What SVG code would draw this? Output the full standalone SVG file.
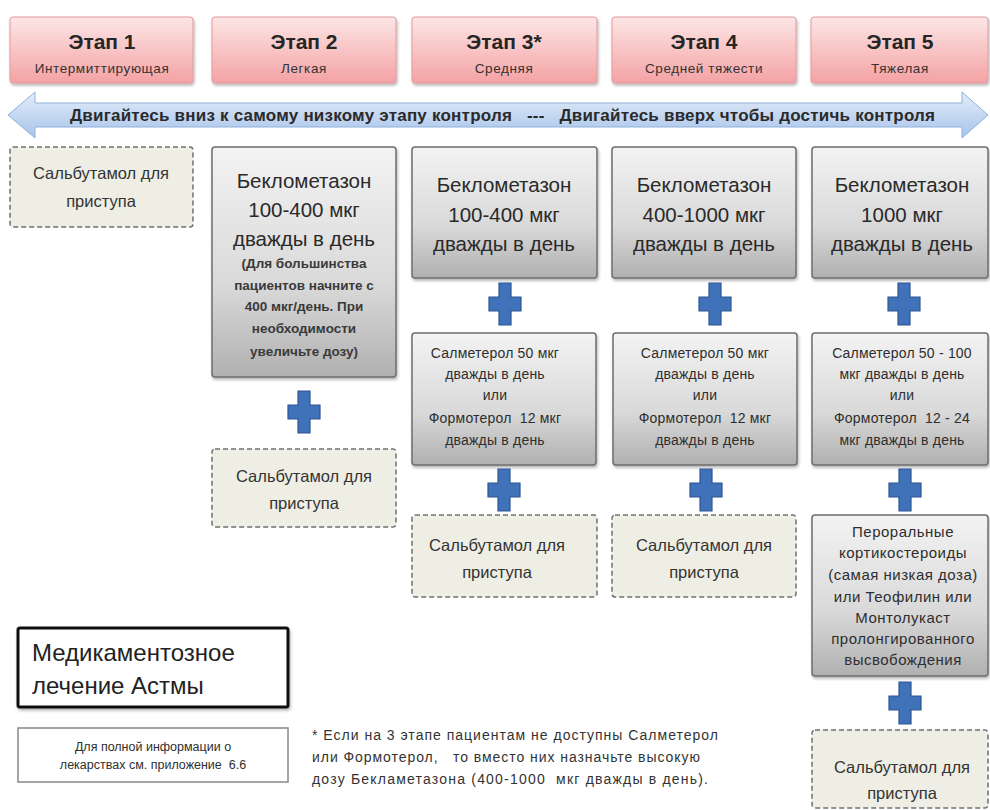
<svg xmlns="http://www.w3.org/2000/svg" width="990" height="810" viewBox="0 0 990 810">
<defs>
  <linearGradient id="gPink" x1="0" y1="0" x2="0" y2="1">
    <stop offset="0" stop-color="#fde6e6"/>
    <stop offset="1" stop-color="#f4a2a4"/>
  </linearGradient>
  <linearGradient id="gGrey" x1="0" y1="0" x2="0" y2="1">
    <stop offset="0" stop-color="#f3f3f3"/>
    <stop offset="0.6" stop-color="#d9d9d9"/>
    <stop offset="1" stop-color="#b0b0b0"/>
  </linearGradient>
  <linearGradient id="gBlue" x1="0" y1="0" x2="0" y2="1">
    <stop offset="0" stop-color="#e3edf9"/>
    <stop offset="1" stop-color="#a8c3ea"/>
  </linearGradient>
  <filter id="sh" x="-10%" y="-10%" width="120%" height="130%">
    <feDropShadow dx="1" dy="2" stdDeviation="1.5" flood-color="#000" flood-opacity="0.3"/>
  </filter>
  <path id="plus" d="M-6,-21 H6 V-7 H16 V7 H6 V21 H-6 V7 H-16 V-7 H-6 Z"/>
</defs>
<style>
  text { font-family: "Liberation Sans", Arial, sans-serif; fill: #2e2e2e; text-anchor: middle; }
  .hdr { fill: url(#gPink); stroke: #e39a9b; stroke-width: 1; filter: url(#sh); }
  .ht { font-size: 21px; font-weight: bold; fill: #262626; }
  .hs { font-size: 13.5px; letter-spacing: 0.6px; fill: #333; }
  .grey { fill: url(#gGrey); stroke: #6e6e6e; stroke-width: 1.5; filter: url(#sh); }
  .sal { fill: #eeeee5; stroke: #707070; stroke-width: 1.5; stroke-dasharray: 5 3; }
  .big { font-size: 20.5px; fill: #2a2a2a; }
  .mid { font-size: 14px; letter-spacing: 0.2px; }
  .oral { font-size: 15px; letter-spacing: 0.5px; }
  .small { font-size: 13.5px; font-weight: bold; fill: #3a3a3a; }
  .salt { font-size: 16.5px; fill: #333; }
  .pl { fill: #3f72b8; stroke: #2c5592; stroke-width: 1.2; }
  .arrowtxt { font-size: 17px; font-weight: bold; fill: #2a2a2a; text-anchor: start; }
  .foot { font-size: 14px; text-anchor: start; fill: #333; }
</style>

<g id="headers">
  <g id="h1"><rect class="hdr" x="10" y="17" width="183" height="66" rx="3"/><text class="ht" x="102" y="49">Этап 1</text><text class="hs" x="102" y="73">Интермиттирующая</text></g>
  <g id="h2"><rect class="hdr" x="212" y="17" width="184" height="66" rx="3"/><text class="ht" x="304" y="49">Этап 2</text><text class="hs" x="304" y="73">Легкая</text></g>
  <g id="h3"><rect class="hdr" x="412" y="17" width="185" height="66" rx="3"/><text class="ht" x="504" y="49">Этап 3*</text><text class="hs" x="504" y="73">Средняя</text></g>
  <g id="h4"><rect class="hdr" x="612" y="17" width="184" height="66" rx="3"/><text class="ht" x="704" y="49">Этап 4</text><text class="hs" x="704" y="73">Средней тяжести</text></g>
  <g id="h5"><rect class="hdr" x="811" y="17" width="177" height="66" rx="3"/><text class="ht" x="900" y="49">Этап 5</text><text class="hs" x="900" y="73">Тяжелая</text></g>
</g>

<g id="arrow">
  <path d="M8,115 L35,92 L35,103 L962,103 L962,92 L988,115 L962,138 L962,127 L35,127 L35,138 Z" fill="url(#gBlue)" stroke="#8fb0dc" stroke-width="1"/>
  <text class="arrowtxt" x="70" y="121" textLength="865" xml:space="preserve">Двигайтесь вниз к самому низкому этапу контроля   ---   Двигайтесь вверх чтобы достичь контроля</text>
</g>

<g id="col1">
  <g id="s1-sal"><rect class="sal" x="10" y="147" width="183" height="80" rx="3"/><text class="salt" x="101" y="179">Сальбутамол для</text><text class="salt" x="101" y="207">приступа</text></g>
</g>

<g id="col2">
  <g id="s2-beclo"><rect class="grey" x="212" y="147" width="184" height="230" rx="3"/>
    <text class="big" x="304" y="188">Беклометазон</text>
    <text class="big" x="304" y="217">100-400 мкг</text>
    <text class="big" x="304" y="246">дважды в день</text>
    <text class="small" x="304" y="268">(Для большинства</text>
    <text class="small" x="304" y="290">пациентов начните с</text>
    <text class="small" x="304" y="311">400 мкг/день. При</text>
    <text class="small" x="304" y="333">необходимости</text>
    <text class="small" x="304" y="356">увеличьте дозу)</text>
  </g>
  <g id="s2-sal"><rect class="sal" x="212" y="449" width="184" height="78" rx="3"/><text class="salt" x="304" y="482">Сальбутамол для</text><text class="salt" x="304" y="509">приступа</text></g>
</g>

<g id="col3">
  <g id="s3-beclo"><rect class="grey" x="412" y="147" width="185" height="131" rx="3"/>
    <text class="big" x="504" y="192">Беклометазон</text>
    <text class="big" x="504" y="222">100-400 мкг</text>
    <text class="big" x="504" y="251">дважды в день</text>
  </g>
  <g id="s3-laba"><rect class="grey" x="412" y="333" width="184" height="132" rx="3"/>
    <text class="mid" x="495" y="358">Салметерол 50 мкг</text>
    <text class="mid" x="495" y="379">дважды в день</text>
    <text class="mid" x="495" y="400">или</text>
    <text class="mid" x="495" y="423" xml:space="preserve">Формотерол  12 мкг</text>
    <text class="mid" x="495" y="445">дважды в день</text>
  </g>
  <g id="s3-sal"><rect class="sal" x="412" y="515" width="185" height="82" rx="3"/><text class="salt" x="497" y="551">Сальбутамол для</text><text class="salt" x="497" y="578">приступа</text></g>
</g>

<g id="col4">
  <g id="s4-beclo"><rect class="grey" x="612" y="147" width="184" height="131" rx="3"/>
    <text class="big" x="704" y="192">Беклометазон</text>
    <text class="big" x="704" y="222">400-1000 мкг</text>
    <text class="big" x="704" y="251">дважды в день</text>
  </g>
  <g id="s4-laba"><rect class="grey" x="613" y="333" width="184" height="132" rx="3"/>
    <text class="mid" x="705" y="358">Салметерол 50 мкг</text>
    <text class="mid" x="705" y="379">дважды в день</text>
    <text class="mid" x="705" y="400">или</text>
    <text class="mid" x="705" y="423" xml:space="preserve">Формотерол  12 мкг</text>
    <text class="mid" x="705" y="445">дважды в день</text>
  </g>
  <g id="s4-sal"><rect class="sal" x="612" y="515" width="184" height="82" rx="3"/><text class="salt" x="704" y="551">Сальбутамол для</text><text class="salt" x="704" y="578">приступа</text></g>
</g>

<g id="col5">
  <g id="s5-beclo"><rect class="grey" x="812" y="147" width="176" height="131" rx="3"/>
    <text class="big" x="902" y="192">Беклометазон</text>
    <text class="big" x="902" y="222">1000 мкг</text>
    <text class="big" x="902" y="251">дважды в день</text>
  </g>
  <g id="s5-laba"><rect class="grey" x="812" y="333" width="176" height="132" rx="3"/>
    <text class="mid" x="902" y="358">Салметерол 50 - 100</text>
    <text class="mid" x="902" y="379">мкг дважды в день</text>
    <text class="mid" x="902" y="400">или</text>
    <text class="mid" x="902" y="423" xml:space="preserve">Формотерол  12 - 24</text>
    <text class="mid" x="902" y="445">мкг дважды в день</text>
  </g>
  <g id="s5-oral"><rect class="grey" x="812" y="515" width="176" height="161" rx="3"/>
    <text class="oral" x="903" y="537">Пероральные</text>
    <text class="oral" x="903" y="558">кортикостероиды</text>
    <text class="oral" x="903" y="580">(самая низкая доза)</text>
    <text class="oral" x="903" y="602">или Теофилин или</text>
    <text class="oral" x="903" y="623">Монтолукаст</text>
    <text class="oral" x="903" y="644">пролонгированного</text>
    <text class="oral" x="903" y="665">высвобождения</text>
  </g>
  <g id="s5-sal"><rect class="sal" x="812" y="730" width="176" height="78" rx="3"/><text class="salt" x="902" y="773">Сальбутамол для</text><text class="salt" x="902" y="799">приступа</text></g>
</g>

<g id="connectors">
  <use href="#plus" class="pl" x="304" y="412"/>
  <use href="#plus" class="pl" x="505" y="304"/>
  <use href="#plus" class="pl" x="504" y="490"/>
  <use href="#plus" class="pl" x="715" y="304"/>
  <use href="#plus" class="pl" x="706" y="490"/>
  <use href="#plus" class="pl" x="904" y="304"/>
  <use href="#plus" class="pl" x="905" y="490"/>
  <use href="#plus" class="pl" x="905" y="703"/>
</g>

<g id="legend">
  <g id="title"><rect x="18" y="628" width="270" height="79" fill="#fff" stroke="#111" stroke-width="3" rx="2" filter="url(#sh)"/>
    <text x="32" y="661" style="font-size:24px;text-anchor:start;fill:#222">Медикаментозное</text>
    <text x="32" y="694" style="font-size:24px;text-anchor:start;fill:#222">лечение Астмы</text>
  </g>
  <g id="info"><rect x="18" y="728" width="270" height="54" fill="#fff" stroke="#888" stroke-width="1.5"/>
    <text x="153" y="751" style="font-size:12.5px">Для полной информации о</text>
    <text x="153" y="769" style="font-size:12.5px" xml:space="preserve">лекарствах см. приложение  6.6</text>
  </g>
  <g id="footnote">
    <text class="foot" x="312" y="740" textLength="406">* Если на 3 этапе пациентам не доступны Салметерол</text>
    <text class="foot" x="312" y="762" textLength="388" xml:space="preserve">или Формотерол,   то вместо них назначьте высокую</text>
    <text class="foot" x="312" y="784" textLength="396" xml:space="preserve">дозу Бекламетазона (400-1000  мкг дважды в день).</text>
  </g>
</g>
</svg>
